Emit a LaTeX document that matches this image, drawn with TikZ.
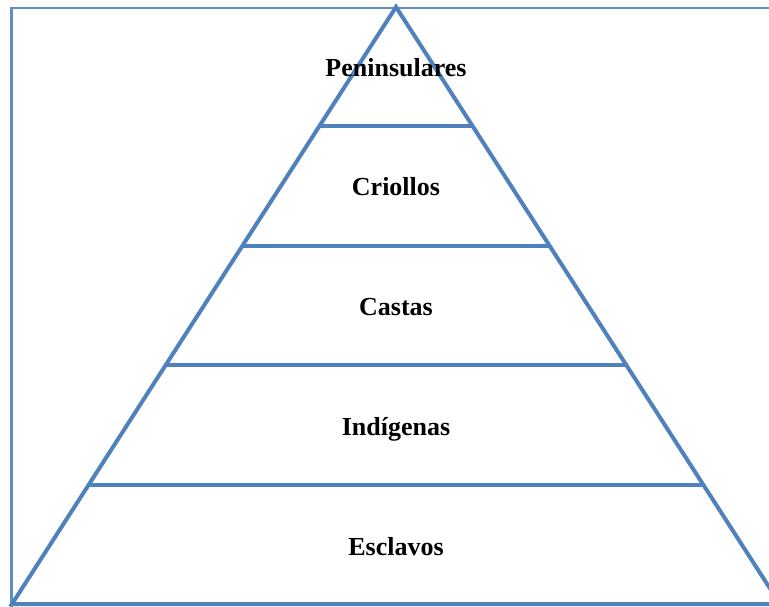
\documentclass[tikz,border=0pt]{standalone}
\usepackage{fontspec}
\setmainfont{Liberation Serif}
\usetikzlibrary{calc}
\definecolor{tierblue}{RGB}{79,129,189}
\begin{document}
\begin{tikzpicture}[x=1pt,y=-1pt,thick,font=\fontsize{26}{30}\selectfont\bfseries,
  tier/.style={draw=tierblue,line width=4pt},
  label/.style={anchor=base,text=black}]
\useasboundingbox (0,0) rectangle (769,606);
\clip (0,0) rectangle (769,606);
%% Frame
\draw[tierblue!90,line width=2.5pt] (11.5,610) |- (800,8);
%% Pyramid
\coordinate (Apex)  at (396,7);
\coordinate (BaseL) at (12,604);
\coordinate (BaseR) at (780,604);
\draw[tier] (BaseL) -- (Apex) -- (BaseR) -- cycle;
\foreach \t in {0.2,0.4,0.6,0.8}
  \draw[tier] ($(Apex)!\t!(BaseL)$) -- ($(Apex)!\t!(BaseR)$);
%% Labels
\node (Peninsulares) [label] at (396,76)  {Peninsulares};
\node (Criollos)     [label] at (396,195) {Criollos};
\node (Castas)       [label] at (396,315) {Castas};
\node (Indigenas)    [label] at (396,435) {Indígenas};
\node (Esclavos)     [label] at (396,555) {Esclavos};
\end{tikzpicture}
\end{document}
